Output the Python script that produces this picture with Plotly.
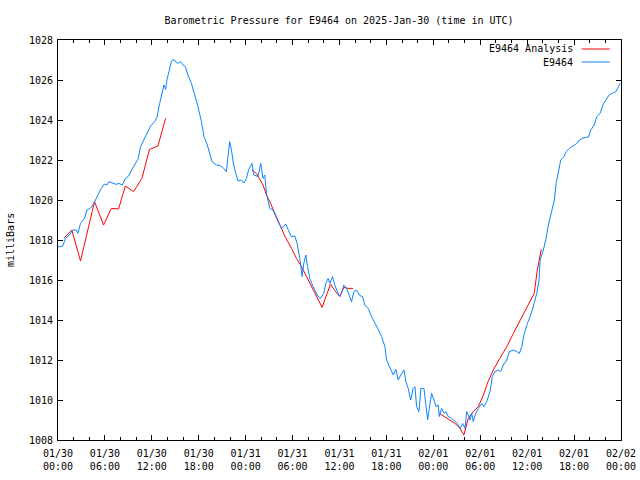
import plotly.graph_objects as go

# Observed pressure (hours since 2025-01-30 00:00 UTC, milliBars)
obs_hours = [0.0, 0.19, 0.61, 0.96, 1.47, 1.9, 2.33, 2.54, 2.88, 3.39, 3.69, 4.12, 4.55, 5.1, 5.53, 5.95,
             6.25, 6.5, 7.02, 7.45, 7.78, 8.22, 8.64, 9.03, 9.45, 9.92, 10.22, 10.56, 10.99, 11.42, 11.84,
             12.36, 12.65, 13.0, 13.29, 13.55, 13.76, 13.93, 14.19, 14.49, 14.7, 15.0, 15.34, 15.68, 15.98,
             16.29, 16.62, 17.06, 17.48, 17.9, 18.34, 18.67, 19.1, 19.4, 19.69, 20.26, 20.77, 21.19, 21.54,
             21.74, 21.96, 22.18, 22.47, 22.73, 23.02, 23.46, 23.79, 24.1, 24.39, 24.81, 25.03, 25.58, 25.93,
             26.22, 26.44, 26.66, 27.08, 27.5, 27.81, 28.14, 28.58, 29.13, 29.42, 29.86, 30.28, 30.58, 30.92,
             31.22, 31.43, 31.69, 31.91, 32.2, 32.62, 32.97, 33.27, 33.57, 33.99, 34.25, 34.55, 34.76, 35.11,
             35.4, 35.62, 35.95, 36.26, 36.56, 36.9, 37.23, 37.54, 37.84, 38.18, 38.6, 38.95, 39.24, 39.67,
             40.1, 40.52, 40.95, 41.38, 41.81, 42.02, 42.44, 42.87, 43.21, 43.51, 43.85, 44.24, 44.49, 44.79,
             45.1, 45.43, 45.65, 45.86, 46.16, 46.41, 46.8, 47.06, 47.27, 47.48, 47.78, 48.08, 48.34, 48.63,
             48.76, 49.06, 49.36, 49.62, 49.91, 50.35, 50.77, 51.06, 51.41, 51.75, 52.05, 52.27, 52.47, 52.69,
             52.9, 53.11, 53.42, 53.75, 54.19, 54.48, 54.83, 55.25, 55.54, 55.89, 56.31, 56.62, 56.95, 57.39,
             57.72, 58.23, 58.67, 59.0, 59.31, 59.64, 60.03, 60.46, 60.88, 61.23, 61.52, 61.65, 62.07, 62.42,
             62.71, 63.15, 63.48, 63.7, 63.99, 64.3, 64.72, 64.98, 65.4, 65.92, 66.35, 66.68, 67.29, 67.84,
             68.14, 68.57, 68.91, 69.33, 69.68, 70.06, 70.49, 70.96, 71.34, 71.68, 71.9]
obs_mb = [1017.65, 1017.67, 1017.7, 1018.08, 1018.25, 1018.5, 1018.5, 1018.33, 1018.83, 1019.08, 1019.5,
          1019.58, 1019.8, 1020.25, 1020.58, 1020.8, 1020.75, 1020.92, 1020.83, 1020.78, 1020.83, 1020.75,
          1021.08, 1021.2, 1021.53, 1021.83, 1022.03, 1022.67, 1023.03, 1023.33, 1023.7, 1023.92, 1024.12,
          1024.83, 1025.25, 1025.75, 1025.53, 1026.0, 1026.42, 1026.92, 1027.03, 1026.92, 1026.83, 1026.92,
          1026.75, 1026.67, 1026.25, 1025.83, 1025.25, 1024.67, 1023.92, 1023.17, 1022.75, 1022.33, 1021.92,
          1021.75, 1021.72, 1021.58, 1021.42, 1022.17, 1022.92, 1022.5, 1021.75, 1021.33, 1020.95, 1021.0,
          1020.85, 1021.08, 1021.53, 1021.83, 1021.25, 1021.17, 1021.83, 1021.08, 1021.25, 1020.33, 1019.58,
          1019.5, 1019.17, 1018.92, 1018.58, 1018.8, 1018.53, 1018.17, 1018.2, 1017.83, 1017.08, 1016.17,
          1016.83, 1017.25, 1016.67, 1016.08, 1015.67, 1015.37, 1015.17, 1015.08, 1015.33, 1015.83, 1016.08,
          1015.83, 1016.17, 1015.75, 1015.5, 1015.2, 1015.33, 1015.75, 1015.58, 1015.25, 1014.92, 1015.42,
          1015.5, 1015.22, 1015.17, 1014.75, 1014.58, 1014.17, 1013.87, 1013.53, 1013.17, 1012.67, 1012.0,
          1011.67, 1011.25, 1011.53, 1011.0, 1011.25, 1011.5, 1010.92, 1010.58, 1010.0, 1010.58, 1010.67,
          1009.67, 1009.42, 1010.58, 1010.58, 1009.75, 1009.0, 1009.58, 1010.33, 1010.0, 1009.67, 1009.75,
          1009.17, 1009.58, 1009.33, 1009.42, 1009.17, 1009.08, 1008.92, 1008.83, 1008.58, 1008.83, 1008.58,
          1009.42, 1009.25, 1009.0, 1009.33, 1008.92, 1009.33, 1009.58, 1009.83, 1009.67, 1009.92, 1010.42,
          1011.17, 1011.42, 1011.5, 1011.42, 1011.75, 1012.0, 1012.42, 1012.5, 1012.42, 1012.33, 1012.67,
          1013.33, 1013.83, 1014.25, 1014.83, 1015.33, 1016.0, 1017.0, 1017.5, 1018.08, 1018.75, 1019.5,
          1020.0, 1020.83, 1021.42, 1022.0, 1022.17, 1022.42, 1022.58, 1022.7, 1022.83, 1023.0, 1023.12,
          1023.15, 1023.5, 1023.75, 1024.17, 1024.33, 1024.75, 1025.0, 1025.25, 1025.35, 1025.42, 1025.67,
          1025.83]

# Analysis (three segments, None = gap)
ana_hours = [0.74, 1.77, 2.88, 4.67, 5.83, 6.81, 7.75, 8.6, 9.67, 10.73, 11.7, 12.78, 13.76, None,
             24.81, 25.37, 26.22, 26.66, 27.08, 27.72, 28.36, 29.0, 29.86, 30.5, 31.14, 31.78, 32.4, 33.06,
             33.78, 34.34, 34.85, 35.4, 36.04, 36.56, 37.1, 37.75, None,
             48.76, 49.7, 50.77, 51.41, 51.9, 52.47, 53.1, 53.75, 54.4, 55.0, 55.67, 56.5, 57.4, 58.23, 59.1,
             59.95, 60.9, 61.3, 61.8]
ana_mb = [1018.08, 1018.5, 1016.95, 1019.92, 1018.75, 1019.58, 1019.55, 1020.7, 1020.42, 1021.08, 1022.53,
          1022.7, 1024.08, None,
          1021.5, 1021.33, 1020.75, 1020.25, 1019.92, 1019.37, 1018.75, 1018.2, 1017.58, 1017.08, 1016.67,
          1016.17, 1015.67, 1015.12, 1014.63, 1015.25, 1015.8, 1015.47, 1015.17, 1015.63, 1015.58, 1015.58,
          None,
          1009.33, 1009.08, 1008.83, 1008.58, 1008.25, 1009.08, 1009.42, 1009.67, 1010.25, 1010.92, 1011.5,
          1012.08, 1012.67, 1013.33, 1014.0, 1014.67, 1015.33, 1016.5, 1017.53]

tick_hours = [0, 6, 12, 18, 24, 30, 36, 42, 48, 54, 60, 66, 72]
tick_labels = ["01/30<br>00:00", "01/30<br>06:00", "01/30<br>12:00", "01/30<br>18:00",
               "01/31<br>00:00", "01/31<br>06:00", "01/31<br>12:00", "01/31<br>18:00",
               "02/01<br>00:00", "02/01<br>06:00", "02/01<br>12:00", "02/01<br>18:00",
               "02/02<br>00:00"]

RED = "#ff0000"
BLUE = "#0a84ff"
FONT = "DejaVu Sans Mono"

fig = go.Figure()
fig.add_trace(go.Scatter(x=ana_hours, y=ana_mb, mode="lines", name="E9464 Analysis",
                         line=dict(color=RED, width=1), connectgaps=False))
fig.add_trace(go.Scatter(x=obs_hours, y=obs_mb, mode="lines", name="E9464",
                         line=dict(color=BLUE, width=1)))

fig.update_layout(
    width=640, height=480,
    margin=dict(l=58, r=19, t=40, b=40, autoexpand=False),
    paper_bgcolor="white", plot_bgcolor="white",
    font=dict(family=FONT, size=10, color="black"),
    showlegend=False,
    title=dict(text="Barometric Pressure for E9464 on 2025-Jan-30 (time in UTC)",
               x=339 / 640, xref="container", xanchor="center",
               y=1 - 20 / 480, yref="container", yanchor="middle",
               automargin=False,
               font=dict(family=FONT, size=10, color="black")),
)
fig.update_xaxes(range=[0, 72], tickmode="array", tickvals=tick_hours, ticktext=tick_labels,
                 ticks="inside", ticklen=5, tickcolor="black", showgrid=False, zeroline=False,
                 showline=True, linecolor="black", linewidth=1, mirror="allticks",
                 automargin=False, ticklabelstandoff=4,
                 minor=dict(tickmode="linear", tick0=0, dtick=2, ticks="inside", ticklen=3,
                            tickcolor="black", showgrid=False),
                 tickfont=dict(family=FONT, size=10))
fig.update_yaxes(range=[1008, 1028], dtick=2, tick0=1008, ticks="inside", ticklen=5,
                 tickcolor="black", showgrid=False, zeroline=False, showline=True,
                 linecolor="black", linewidth=1, mirror="allticks", automargin=False,
                 ticklabelstandoff=2,
                 tickfont=dict(family=FONT, size=10))

# y-axis title placed like the gnuplot original (close to the left edge)
fig.add_annotation(text="milliBars", xref="paper", yref="paper", x=-48 / 563, y=0.5,
                   xanchor="center", yanchor="middle", textangle=-90, showarrow=False,
                   font=dict(family=FONT, size=10, color="black"))

# gnuplot-style key (text then line sample), top right inside the plot
key_entries = [("E9464 Analysis", RED, 0.9775), ("E9464", BLUE, 0.945)]
for label, color, ky in key_entries:
    fig.add_annotation(text=label, xref="paper", yref="paper", x=0.918, y=ky,
                       xanchor="right", yanchor="middle", showarrow=False,
                       font=dict(family=FONT, size=10, color="black"))
    fig.add_shape(type="line", xref="paper", yref="paper", x0=0.930, x1=0.980, y0=ky, y1=ky,
                  line=dict(color=color, width=1))

fig.write_html("out.html", config={"displayModeBar": False},
               post_script="document.body.style.margin='0px';document.body.style.padding='0px';")
